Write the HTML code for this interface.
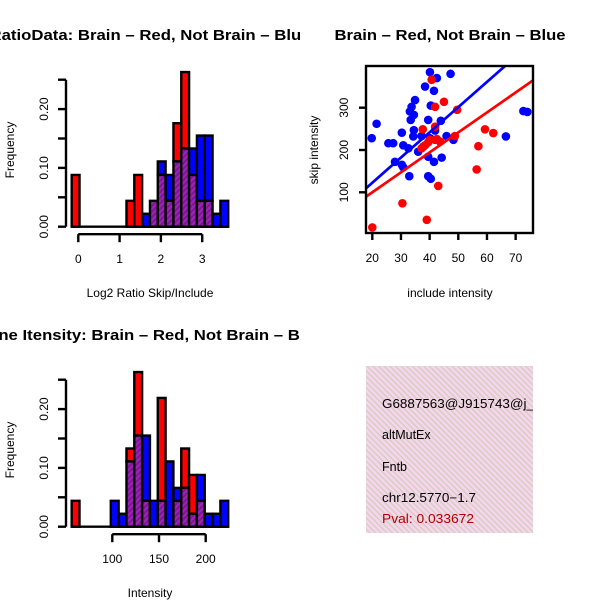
<!DOCTYPE html>
<html><head><meta charset="utf-8"><style>
html,body{margin:0;padding:0;background:#fff;}
svg{display:block;font-family:"Liberation Sans",Arial,sans-serif;}
</style></head><body>
<svg id="chart" width="600" height="600" viewBox="0 0 600 600" xmlns="http://www.w3.org/2000/svg">
<defs>
<pattern id="hatch" patternUnits="userSpaceOnUse" width="4" height="4" patternTransform="rotate(45)">
<rect width="4" height="4" fill="#a020c0"/><rect width="2" height="4" fill="#7a1a8a"/>
</pattern>
<pattern id="pinkhatch" patternUnits="userSpaceOnUse" width="4" height="4" patternTransform="rotate(-45)">
<rect width="4" height="4" fill="#f8d4f0"/><rect width="1.5" height="4" fill="#d4d0bc"/>
</pattern>
<clipPath id="clipL"><rect x="0" y="0" width="300" height="600"/></clipPath>
<clipPath id="clipS"><rect x="366" y="66" width="167" height="167"/></clipPath>
<clipPath id="clipI"><rect x="366" y="366" width="167" height="167"/></clipPath>
</defs>
<g id="h1"></g>
<g id="sc"></g>
<g id="h2"></g>
<g>
<rect x="366" y="366" width="167" height="167" fill="url(#pinkhatch)"/>
<g font-size="12.5" clip-path="url(#clipI)">
<text x="382" y="408" textLength="152" lengthAdjust="spacingAndGlyphs">G6887563@J915743@j_</text>
<text x="382" y="439">altMutEx</text>
<text x="382" y="471">Fntb</text>
<text x="382" y="502" textLength="94" lengthAdjust="spacingAndGlyphs">chr12.5770−1.7</text>
<text x="382" y="523" fill="#b00000" textLength="92" lengthAdjust="spacingAndGlyphs">Pval: 0.033672</text>
</g>
</g>
</svg>
<script>
// Histogram 1 (log2 ratio)
const h1Red = [0.088,0,0,0,0,0,0,0.044,0.088,0,0.044,0.088,0.044,0.176,0.263,0.088,0.044,0.044,0,0];
const h1Blue = [0,0,0,0,0,0,0,0,0,0.022,0.044,0.111,0.088,0.111,0.133,0.133,0.155,0.155,0.022,0.044];
const h1Start = -0.16, h1Width = 0.1895;
const h1XTicks = [0,1,2,3];
// Histogram 2 (intensity)
const h2Red = [0.044,0,0,0,0,0,0,0.133,0.263,0.044,0,0.219,0,0.044,0.133,0.088,0.044,0,0,0];
const h2Blue = [0,0,0,0,0,0.044,0.022,0.111,0.155,0.155,0.044,0.044,0.111,0.066,0.066,0.022,0.088,0.022,0.022,0.044];
const h2Start = 56.5, h2Width = 8.38;
const h2XTicks = [100,150,200];
const yTicks = [0,0.05,0.10,0.15,0.20,0.25];
const yTickLabels = ["0.00","","0.10","","0.20",""];
// Scatter
const blueX = [40.1,47.3,42.5,38.4,41.5,34.9,33.7,40.4,33.1,34.5,33.4,39.5,43.9,21.5,34.5,30.3,41.9,19.8,25.6,27.3,30.8,34.3,37.2,40.1,45.9,48.3,32.6,36.0,37.8,27.9,30.3,30.8,39.5,41.5,44.2,32.9,39.5,40.4,66.6,72.7,74.1];
const blueY = [384,380,370,350,340,318,302,305,291,283,271,271,269,262,247,241,246,228,216,216,211,232,233,228,233,224,204,196,208,172,165,159,184,172,182,138,138,132,232,292,290];
const redX = [40.7,45.0,41.9,49.6,37.6,41.9,40.1,41.9,43.6,38.4,37.2,48.8,59.3,62.2,57.0,56.4,43.0,30.5,39.0,20.0,39.5,42.5];
const redY = [366,314,302,295,249,255,224,224,220,211,204,233,249,240,209,154,115,74,35,17,218,226];
const lineNames = ["blue-fit","red-fit"];
const lineIntercepts = [3.4,5.6];
const lineSlopes = [5.96,4.72];
const lineColors = ["#0000ff","#ff0000"];
const scXTicks = [20,30,40,50,60,70];
const scYTicks = [100,200,300];

const NS="http://www.w3.org/2000/svg";
function mk(parent,tag,attrs,text){const e=document.createElementNS(NS,tag);for(const k in attrs)e.setAttribute(k,attrs[k]);if(text!==undefined)e.textContent=text;parent.appendChild(e);return e;}
function stretch(t,f){const w=t.getComputedTextLength();if(w>0){t.setAttribute('textLength',w*f);t.setAttribute('lengthAdjust','spacingAndGlyphs');}}

function hist(gid,red,blue,start,width,xTicks,xs,baseY,title,xlab,oy){
  const g=document.getElementById(gid);
  const ys=v=>baseY-v*588;
  const cl=mk(g,'g',{'clip-path':'url(#clipL)'});
  const t=mk(cl,'text',{x:150,y:oy+40,'text-anchor':'middle','font-weight':'bold','font-size':'14.5'},title);
  
  
  stretch(t,1.155);
  for(let i=0;i<red.length;i++){
    const x0=xs(start+i*width), x1=xs(start+(i+1)*width);
    const r=red[i], b=blue[i], mn=Math.min(r,b), mx=Math.max(r,b);
    if(mx<=0) continue;
    const top=mk(g,'rect',{x:x0,y:ys(mx),width:x1-x0,height:ys(mn)-ys(mx),fill:r>b?'#ff0000':'#0000ff',stroke:'#000','stroke-width':2.4});
    
    
    if(mn>0){
      const ov=mk(g,'rect',{x:x0,y:ys(mn),width:x1-x0,height:ys(0)-ys(mn),fill:'url(#hatch)',stroke:'#000','stroke-width':2.4});
      
      
    }
  }
  const bl=mk(g,'line',{x1:xs(start),x2:xs(start+red.length*width),y1:baseY,y2:baseY,stroke:'#000','stroke-width':2.4});
  
  
  const ya=mk(g,'g',{});
  
  
  mk(ya,'line',{x1:66,x2:66,y1:ys(yTicks[0]),y2:ys(yTicks[yTicks.length-1]),stroke:'#000','stroke-width':2.4});
  yTicks.forEach((v,i)=>{mk(ya,'line',{x1:58,x2:66,y1:ys(v),y2:ys(v),stroke:'#000','stroke-width':2.4});
    if(yTickLabels[i]){mk(ya,'text',{x:0,y:0,transform:`translate(48,${ys(v)}) rotate(-90)`,'text-anchor':'middle','font-size':'12'},yTickLabels[i]);}});
  const yl=mk(g,'text',{transform:`translate(14,${oy+150}) rotate(-90)`,'text-anchor':'middle','font-size':'12'},'Frequency');
  
  
  const xa=mk(g,'g',{});
  
  
  const ay=baseY+7.5;
  mk(xa,'line',{x1:xs(xTicks[0]),x2:xs(xTicks[xTicks.length-1]),y1:ay,y2:ay,stroke:'#000','stroke-width':2.4});
  xTicks.forEach(v=>{mk(xa,'line',{x1:xs(v),x2:xs(v),y1:ay,y2:ay+8,stroke:'#000','stroke-width':2.4});
    mk(xa,'text',{x:xs(v),y:ay+29,'text-anchor':'middle','font-size':'12'},String(v));});
  const xl=mk(g,'text',{x:150,y:oy+297,'text-anchor':'middle','font-size':'12'},xlab);
  
  
}
hist('h1',h1Red,h1Blue,h1Start,h1Width,h1XTicks,v=>78.3+v*41.3,226.7,'RatioData: Brain – Red, Not Brain – Blue','Log2 Ratio Skip/Include',0);
hist('h2',h2Red,h2Blue,h2Start,h2Width,h2XTicks,v=>112.3+(v-100)*0.934,526.7,'Gene Itensity: Brain – Red, Not Brain – Blue','Intensity',300);

(function(){
  const g=document.getElementById('sc');
  const xs=v=>372.3+(v-20)*2.867, ys=v=>192.3-(v-100)*0.423;
  const t=mk(g,'text',{x:450,y:40,'text-anchor':'middle','font-weight':'bold','font-size':'14.5','textLength':231,'lengthAdjust':'spacingAndGlyphs'},'Brain – Red, Not Brain – Blue');
  
  
  const pts=mk(g,'g',{'clip-path':'url(#clipS)'});
  blueX.forEach((x,i)=>{const c=mk(pts,'circle',{cx:xs(x),cy:ys(blueY[i]),r:4.3,fill:'#0000ff'});
    
    });
  redX.forEach((x,i)=>{const c=mk(pts,'circle',{cx:xs(x),cy:ys(redY[i]),r:4.3,fill:'#ff0000'});
    
    });
  lineNames.forEach((n,i)=>{const x0=10,x1=90;
    const l=mk(pts,'line',{x1:xs(x0),y1:ys(lineIntercepts[i]+lineSlopes[i]*x0),x2:xs(x1),y2:ys(lineIntercepts[i]+lineSlopes[i]*x1),stroke:lineColors[i],'stroke-width':2.7});
    
    });
  const box=mk(g,'rect',{x:366,y:66,width:167,height:167,fill:'none',stroke:'#000','stroke-width':2.4});
  
  
  const xa=mk(g,'g',{});
  
  
  scXTicks.forEach(v=>{mk(xa,'line',{x1:xs(v),x2:xs(v),y1:233,y2:240,stroke:'#000','stroke-width':2.4});
    mk(xa,'text',{x:xs(v),y:262,'text-anchor':'middle','font-size':'12'},String(v));});
  const ya=mk(g,'g',{});
  
  
  scYTicks.forEach(v=>{mk(ya,'line',{x1:359,x2:366,y1:ys(v),y2:ys(v),stroke:'#000','stroke-width':2.4});
    mk(ya,'text',{transform:`translate(348,${ys(v)}) rotate(-90)`,'text-anchor':'middle','font-size':'12'},String(v));});
  const xl=mk(g,'text',{x:450,y:297,'text-anchor':'middle','font-size':'12'},'include intensity');
  
  
  const yl=mk(g,'text',{transform:'translate(318,150) rotate(-90)','text-anchor':'middle','font-size':'12'},'skip intensity');
  
  
})();
</script>
</body></html>
